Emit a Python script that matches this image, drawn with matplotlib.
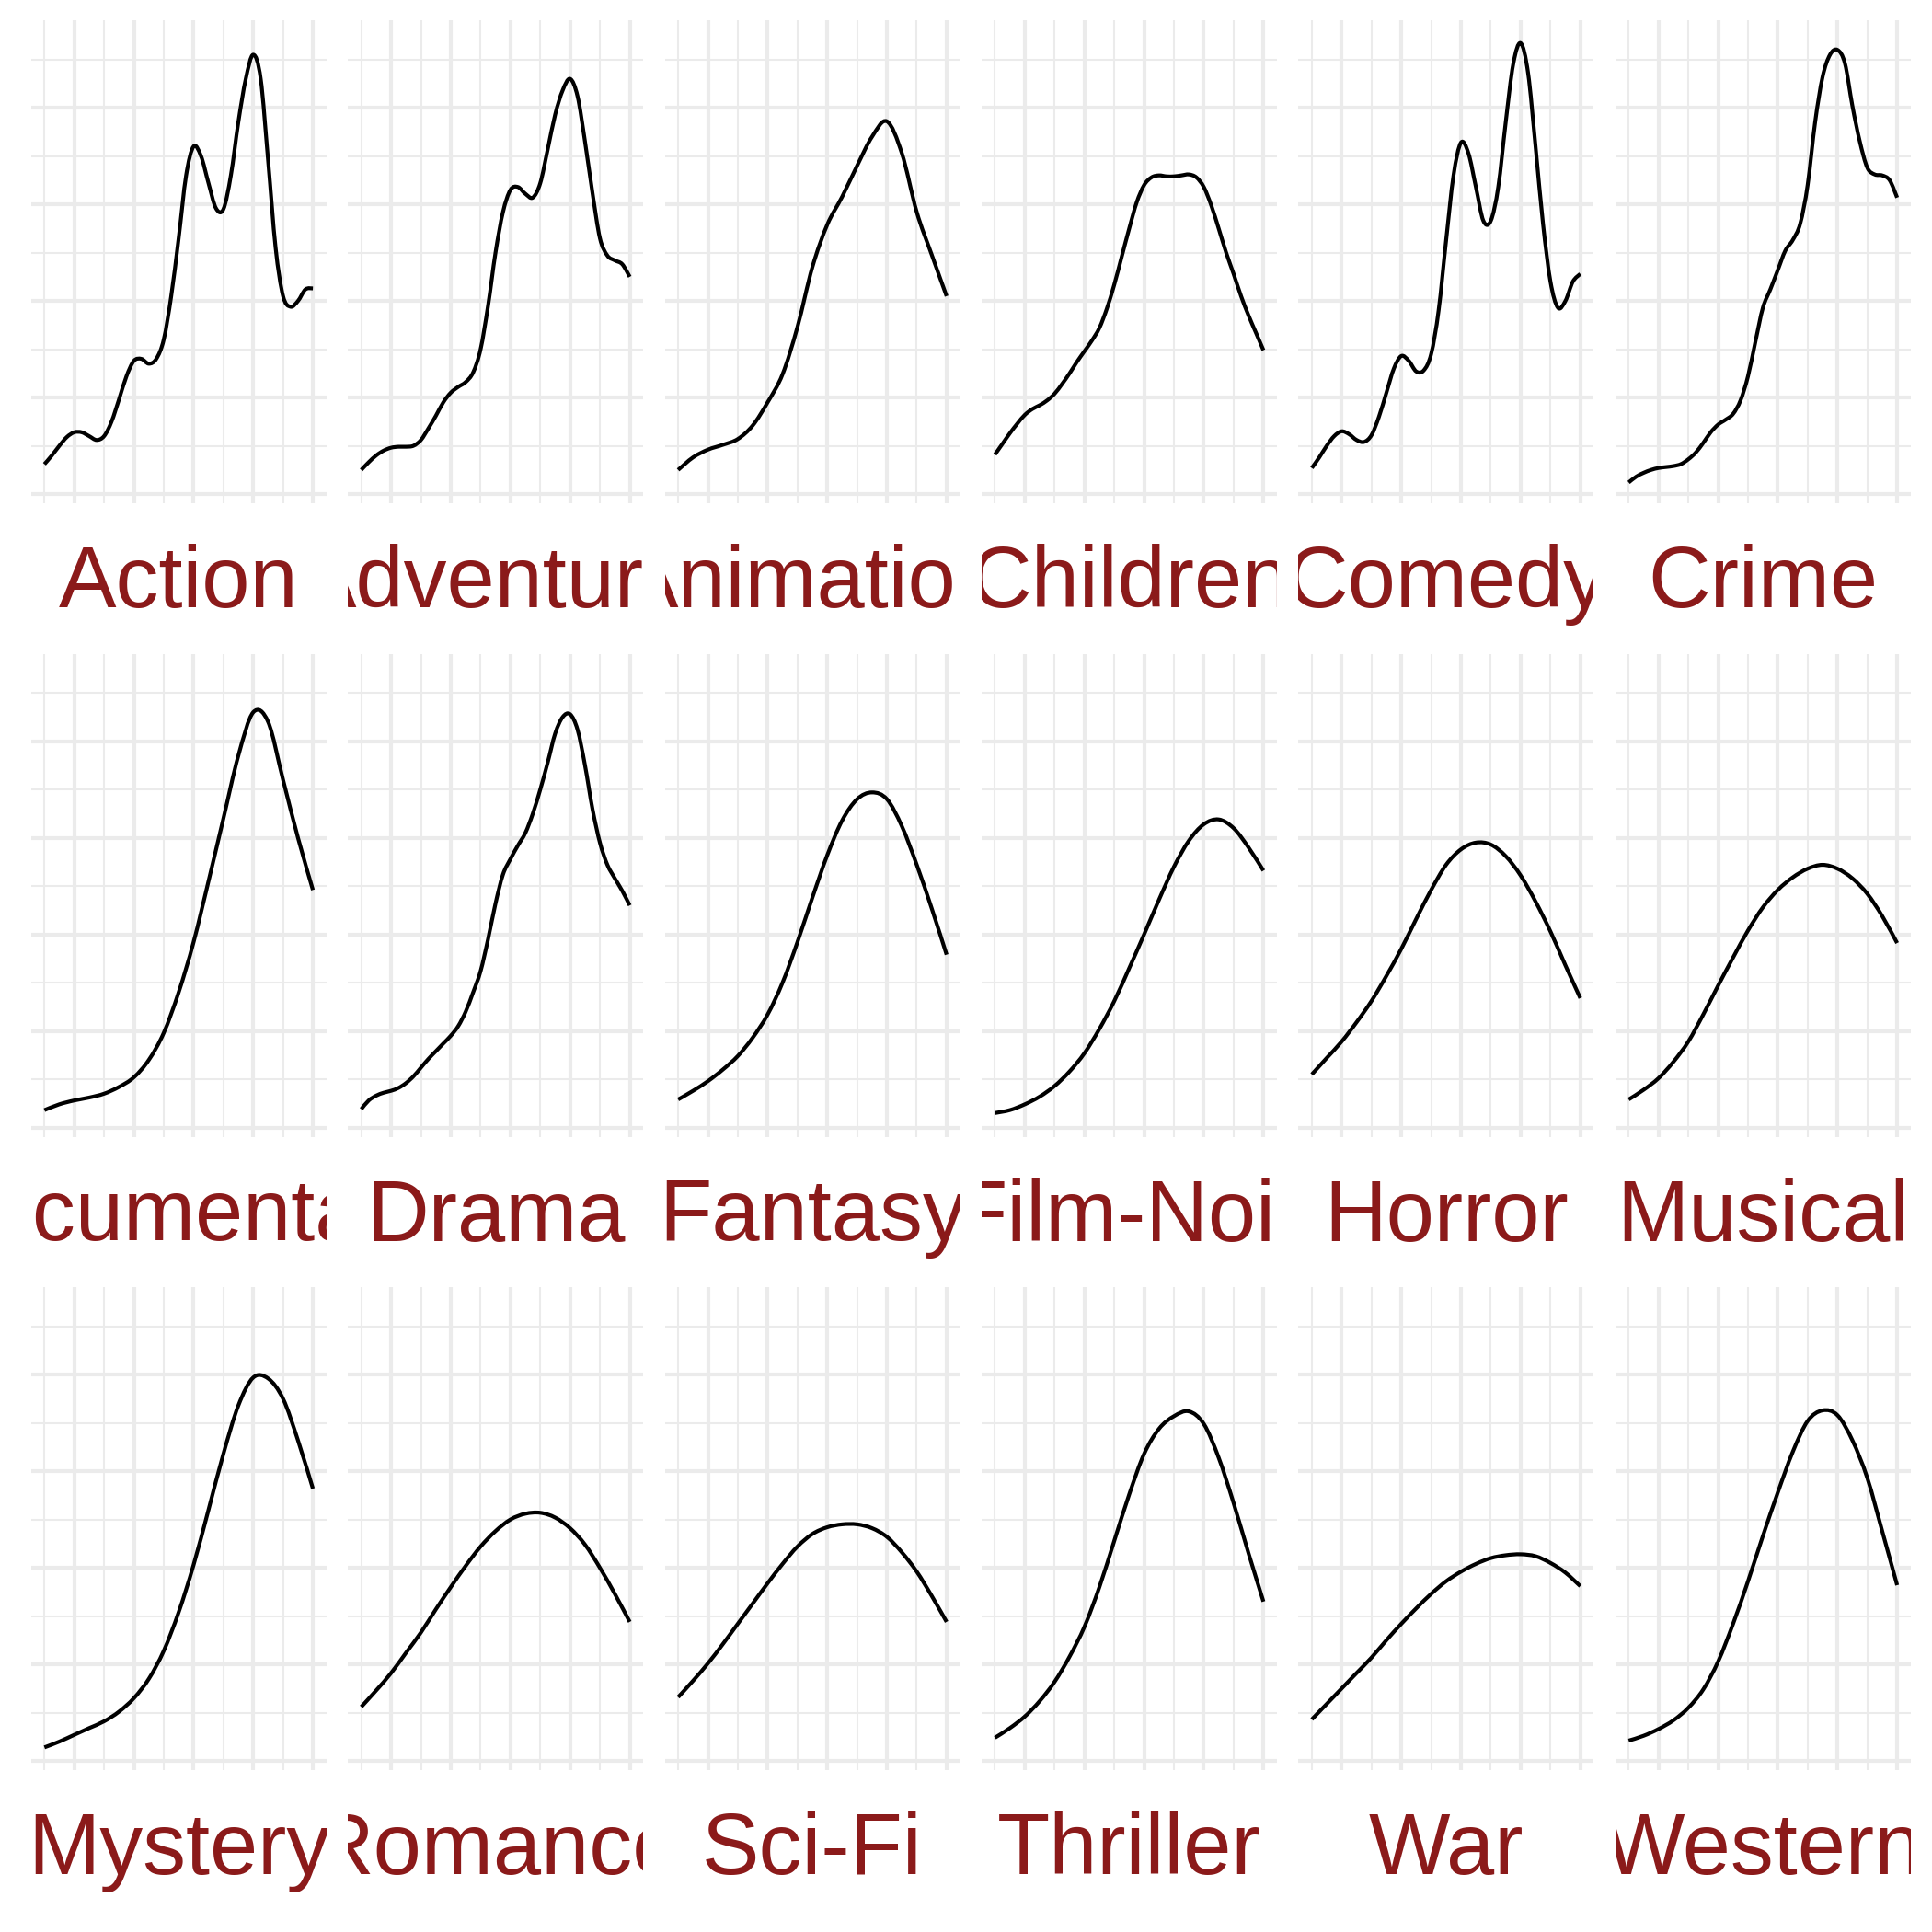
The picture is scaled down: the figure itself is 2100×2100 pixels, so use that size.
import matplotlib.pyplot as plt
from matplotlib.path import Path
from matplotlib.patches import PathPatch
from matplotlib.ticker import MultipleLocator

# rating grid the densities were read on
X_FINE = [0.5 + 0.125 * i for i in range(37)]
X_COARSE = [0.5 + 0.25 * i for i in range(19)]

GENRES = ["Action", "Adventure", "Animation", "Children", "Comedy", "Crime",
          "Documentary", "Drama", "Fantasy", "Film-Noir", "Horror", "Musical",
          "Mystery", "Romance", "Sci-Fi", "Thriller", "War", "Western"]

action = [0.031, 0.040, 0.050, 0.059, 0.064, 0.064, 0.060, 0.056, 0.060, 0.075,
          0.098, 0.122, 0.138, 0.140, 0.135, 0.140, 0.160, 0.205, 0.265, 0.330,
          0.360, 0.350, 0.322, 0.296, 0.295, 0.330, 0.385, 0.430, 0.455, 0.430,
          0.345, 0.255, 0.205, 0.194, 0.200, 0.212, 0.213]
adventure = [0.025, 0.033, 0.040, 0.045, 0.048, 0.049, 0.049, 0.050, 0.056, 0.068,
             0.081, 0.095, 0.105, 0.111, 0.116, 0.126, 0.150, 0.195, 0.250, 0.292,
             0.315, 0.318, 0.311, 0.307, 0.322, 0.357, 0.393, 0.418, 0.430, 0.412,
             0.365, 0.312, 0.265, 0.247, 0.242, 0.238, 0.225]
animation = [0.025, 0.038, 0.046, 0.051, 0.057, 0.071, 0.095, 0.124, 0.173, 0.235,
             0.279, 0.308, 0.340, 0.370, 0.386, 0.353, 0.292, 0.248, 0.205]
children = [0.041, 0.052, 0.063, 0.073, 0.082, 0.088, 0.092, 0.097, 0.104, 0.114,
            0.125, 0.137, 0.148, 0.159, 0.172, 0.192, 0.217, 0.246, 0.275, 0.302,
            0.320, 0.328, 0.330, 0.329, 0.329, 0.330, 0.331, 0.328, 0.318, 0.299,
            0.275, 0.250, 0.228, 0.205, 0.185, 0.167, 0.149]
comedy = [0.027, 0.038, 0.050, 0.060, 0.065, 0.062, 0.056, 0.054, 0.061, 0.080,
          0.105, 0.130, 0.143, 0.138, 0.127, 0.128, 0.145, 0.190, 0.262, 0.330,
          0.364, 0.353, 0.318, 0.283, 0.283, 0.318, 0.385, 0.445, 0.467, 0.436,
          0.360, 0.280, 0.220, 0.193, 0.200, 0.220, 0.228]
crime = [0.012, 0.018, 0.022, 0.025, 0.027, 0.028, 0.029, 0.031, 0.036, 0.043,
         0.053, 0.064, 0.072, 0.077, 0.083, 0.097, 0.122, 0.158, 0.193, 0.212,
         0.232, 0.252, 0.263, 0.280, 0.320, 0.385, 0.432, 0.455, 0.460, 0.446,
         0.402, 0.365, 0.338, 0.331, 0.330, 0.325, 0.307]
documentary = [0.018, 0.024, 0.028, 0.031, 0.035, 0.042, 0.052, 0.070, 0.098, 0.140,
               0.192, 0.255, 0.320, 0.385, 0.430, 0.420, 0.360, 0.300, 0.246]
drama = [0.019, 0.028, 0.033, 0.036, 0.038, 0.041, 0.046, 0.053, 0.062, 0.071,
         0.079, 0.087, 0.095, 0.105, 0.120, 0.140, 0.162, 0.195, 0.232, 0.262,
         0.278, 0.292, 0.305, 0.325, 0.350, 0.378, 0.408, 0.425, 0.428, 0.412,
         0.375, 0.330, 0.295, 0.272, 0.258, 0.245, 0.230]
fantasy = [0.029, 0.038, 0.048, 0.060, 0.074, 0.093, 0.117, 0.150, 0.192, 0.238,
           0.282, 0.318, 0.340, 0.347, 0.340, 0.312, 0.272, 0.227, 0.179]
film_noir = [0.015, 0.018, 0.024, 0.032, 0.043, 0.058, 0.077, 0.102, 0.131, 0.165,
             0.200, 0.236, 0.270, 0.297, 0.314, 0.319, 0.310, 0.290, 0.266]
horror = [0.055, 0.072, 0.089, 0.109, 0.131, 0.157, 0.185, 0.216, 0.246, 0.272,
          0.288, 0.295, 0.293, 0.281, 0.261, 0.234, 0.203, 0.168, 0.134]
musical = [0.029, 0.039, 0.051, 0.068, 0.089, 0.117, 0.147, 0.176, 0.204, 0.228,
           0.246, 0.259, 0.268, 0.272, 0.268, 0.258, 0.242, 0.219, 0.191]
mystery = [0.014, 0.020, 0.027, 0.034, 0.041, 0.051, 0.065, 0.085, 0.114, 0.154,
           0.203, 0.260, 0.318, 0.368, 0.397, 0.396, 0.375, 0.332, 0.282]
romance = [0.056, 0.073, 0.091, 0.112, 0.133, 0.157, 0.180, 0.202, 0.222, 0.238,
           0.250, 0.256, 0.257, 0.252, 0.241, 0.224, 0.200, 0.173, 0.144]
sci_fi = [0.066, 0.083, 0.101, 0.121, 0.142, 0.163, 0.184, 0.204, 0.222, 0.235,
          0.242, 0.245, 0.245, 0.241, 0.232, 0.216, 0.196, 0.171, 0.144]
thriller = [0.024, 0.034, 0.046, 0.062, 0.082, 0.108, 0.139, 0.180, 0.228, 0.276,
            0.318, 0.344, 0.357, 0.362, 0.349, 0.314, 0.267, 0.215, 0.165]
war = [0.043, 0.059, 0.075, 0.091, 0.107, 0.125, 0.142, 0.158, 0.173, 0.186,
       0.196, 0.204, 0.210, 0.213, 0.214, 0.212, 0.205, 0.195, 0.181]
western = [0.021, 0.026, 0.033, 0.042, 0.055, 0.074, 0.103, 0.142, 0.186, 0.233,
           0.278, 0.320, 0.352, 0.363, 0.358, 0.332, 0.293, 0.238, 0.182]

DENSITIES = [action, adventure, animation, children, comedy, crime,
             documentary, drama, fantasy, film_noir, horror, musical,
             mystery, romance, sci_fi, thriller, war, western]

GRID_COLOR = "#EBEBEB"
LABEL_COLOR = "#8B1A1A"


def smooth_path(xs, ys):
    # Catmull-Rom through the read points, drawn as cubic Bezier segments
    pts = list(zip(xs, ys))
    verts = [pts[0]]
    codes = [Path.MOVETO]
    n = len(pts)
    for i in range(n - 1):
        p0 = pts[max(i - 1, 0)]
        p1 = pts[i]
        p2 = pts[i + 1]
        p3 = pts[min(i + 2, n - 1)]
        c1 = (p1[0] + (p2[0] - p0[0]) / 6, p1[1] + (p2[1] - p0[1]) / 6)
        c2 = (p2[0] - (p3[0] - p1[0]) / 6, p2[1] - (p3[1] - p1[1]) / 6)
        verts += [c1, c2, p2]
        codes += [Path.CURVE4] * 3
    return Path(verts, codes)


W = 2100.0
fig = plt.figure(figsize=(7, 7), dpi=300)

for i, (genre, dens) in enumerate(zip(GENRES, DENSITIES)):
    row, col = divmod(i, 6)
    left = (33.7 + 344.4 * col) / W
    top = (22 + 688.5 * row) / W
    ax = fig.add_axes([left, 1 - top - 525 / W, 321 / W, 525 / W])

    x = X_FINE if len(dens) == len(X_FINE) else X_COARSE
    ax.add_patch(PathPatch(smooth_path(x, dens), fill=False, edgecolor="black",
                           lw=1.0, capstyle="butt", joinstyle="round"))

    ax.set_xlim(0.275, 5.225)
    ax.set_ylim(-0.0095, 0.4907)
    ax.xaxis.set_major_locator(MultipleLocator(1.0))
    ax.xaxis.set_minor_locator(MultipleLocator(0.5))
    ax.yaxis.set_major_locator(MultipleLocator(0.1))
    ax.yaxis.set_minor_locator(MultipleLocator(0.05))
    ax.grid(which="major", color=GRID_COLOR, lw=1.0)
    ax.grid(which="minor", color=GRID_COLOR, lw=0.5)
    ax.set_axisbelow(True)
    ax.tick_params(which="both", length=0, labelbottom=False, labelleft=False)
    for s in ax.spines.values():
        s.set_visible(False)

    # strip below the panel, label clipped to panel width
    sax = fig.add_axes([left, 1 - top - 666 / W, 321 / W, 141 / W])
    sax.set_axis_off()
    sax.text(0.5, (141 - 113) / 141, genre, transform=sax.transAxes,
             ha="center", va="baseline", fontsize=22.5, color=LABEL_COLOR,
             family=["Liberation Sans", "DejaVu Sans"], clip_on=True)

fig.savefig("out.png", dpi=300, facecolor="white")
